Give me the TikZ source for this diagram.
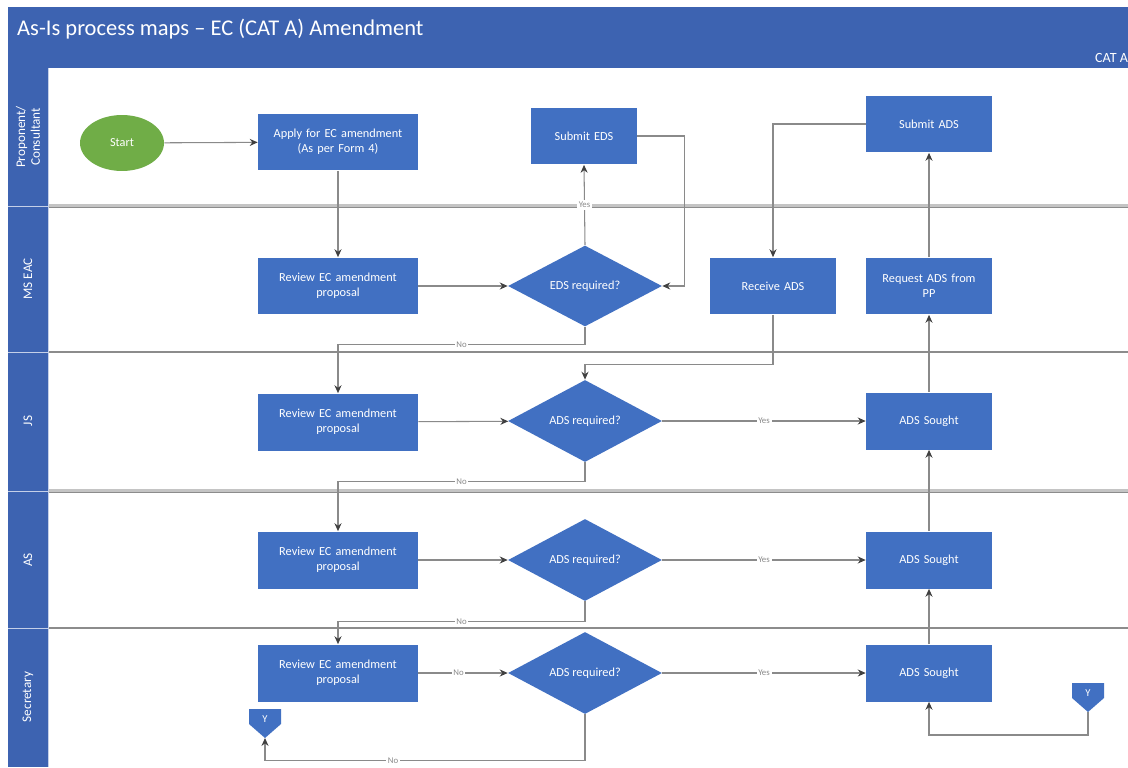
\documentclass[tikz,border=0pt]{standalone}
\usepackage{fontspec}
\setmainfont{Carlito}
\usetikzlibrary{shapes.geometric,arrows.meta}

\definecolor{barblue}{HTML}{3D63B1}
\definecolor{boxblue}{HTML}{4170C2}
\definecolor{startgreen}{HTML}{70AD47}
\definecolor{linegray}{HTML}{8A8A8A}
\definecolor{tipgray}{HTML}{404040}
\definecolor{sepgray}{HTML}{C4C4C4}
\definecolor{sepdark}{HTML}{8C8C8C}

\tikzset{
  x=0.02cm, y=-0.02cm,
  every node/.style={font=\fontsize{7}{8.5}\selectfont},
  procbox/.style={rectangle, fill=boxblue, text=white, align=center,
    minimum height=1.14cm, inner sep=2pt},
  widebox/.style={procbox, minimum width=3.2cm, text width=2.9cm},
  midbox/.style={procbox, minimum width=2.52cm, text width=2.3cm},
  smallbox/.style={procbox, minimum width=2.12cm, text width=1.9cm},
  decision/.style={diamond, fill=boxblue, text=white, align=center,
    minimum width=3.08cm, minimum height=1.52cm, inner sep=0pt},
  startnode/.style={ellipse, fill=startgreen, text=white,
    minimum width=1.68cm, minimum height=1.12cm},
  flow/.style={draw=linegray, line width=0.6pt,
    -{Stealth[length=4.5pt,width=4pt,color=tipgray]}},
  lbl/.style={fill=white, text=linegray, inner sep=1pt,
    font=\fontsize{5}{6}\selectfont},
  lanetext/.style={rotate=90, text=white, align=center,
    font=\fontsize{7.5}{8.5}\selectfont},
  offpage/.style={fill=boxblue},
}

\begin{document}
\begin{tikzpicture}
\useasboundingbox (0,0) rectangle (1128,767);
\clip (0,0) rectangle (1128,767);
\fill[white] (0,0) rectangle (1128,767);

% header band and lane label column
\fill[barblue] (8,7) rectangle (1128,68);
\fill[barblue] (8,68) rectangle (48,767);
\node[anchor=west, text=white, font=\fontsize{12.8}{14}\selectfont] (title) at (11,29)
  {As-Is process maps -- EC (CAT A) Amendment};
\node[anchor=west, text=white, font=\fontsize{8}{9}\selectfont] (phase) at (1089,58) {CAT A};

% lane separators
\foreach \yy in {206,491} {
  \draw[sepgray, line width=2.2pt] (48,\yy) -- (1128,\yy);
  \draw[sepdark, line width=0.5pt] (48,\yy+1) -- (1128,\yy+1);
}
\foreach \yy in {352,628} {
  \draw[sepdark, line width=0.9pt] (48,\yy) -- (1128,\yy);
}
\foreach \yy in {206,352,491,628}
  \draw[white!70!barblue, line width=0.4pt] (8,\yy) -- (48,\yy);
\draw[white!70!barblue, line width=0.5pt] (48,68) -- (48,767);

% lane names
\node[lanetext] (laneA) at (28,137) {Proponent/\\Consultant};
\node[lanetext] (laneB) at (28,279) {MS EAC};
\node[lanetext] (laneC) at (28,421) {JS};
\node[lanetext] (laneD) at (28,560) {AS};
\node[lanetext] (laneE) at (28,697) {Secretary};

% proponent / consultant lane
\node[startnode] (start) at (122,143) {Start};
\node[widebox] (apply) at (338,142) {Apply for EC amendment\\(As per Form 4)};
\node[smallbox] (subEDS) at (584,136) {Submit EDS};
\node[midbox] (subADS) at (929,124) {Submit ADS};

% MS EAC lane
\node[widebox] (revMS) at (338,286) {Review EC amendment\\proposal};
\node[decision] (edsQ) at (585,286) {EDS required?};
\node[midbox] (recADS) at (773,286) {Receive ADS};
\node[midbox] (reqADS) at (929,286) {Request ADS from\\PP};

% JS lane
\node[widebox] (revJS) at (338,422) {Review EC amendment\\proposal};
\node[decision] (adsJS) at (585,421) {ADS required?};
\node[midbox] (soughtJS) at (929,421) {ADS Sought};

% AS lane
\node[widebox] (revAS) at (338,560) {Review EC amendment\\proposal};
\node[decision] (adsAS) at (585,560) {ADS required?};
\node[midbox] (soughtAS) at (929,560) {ADS Sought};

% Secretary lane
\node[widebox] (revSec) at (338,673) {Review EC amendment\\proposal};
\node[decision] (adsSec) at (585,673) {ADS required?};
\node[midbox] (soughtSec) at (929,673) {ADS Sought};

% off-page references
\fill[offpage] (249,709) -- (281,709) -- (281,724) -- (265,738) -- (249,724) -- cycle;
\node[text=white, font=\fontsize{6}{7}\selectfont] (offL) at (265,719) {Y};
\coordinate (offLtip) at (265,738);
\fill[offpage] (1072,683) -- (1104,683) -- (1104,698) -- (1088,712) -- (1072,698) -- cycle;
\node[text=white, font=\fontsize{6}{7}\selectfont] (offR) at (1088,693) {Y};
\coordinate (offRtip) at (1088,712);

% connectors
\draw[flow] (start) -- (apply);
\draw[flow] (apply) -- (revMS);
\draw[flow] (revMS) -- (edsQ);
\draw[flow] (edsQ.north) -- node[lbl]{Yes} (subEDS.south);
\draw[flow] (subEDS.east) -- ++(47,0) |- (edsQ.east);
\draw[flow] (edsQ.south) -- ++(0,18) -| node[lbl,pos=0.25]{No} (revJS.north);
\draw[flow] (subADS.west) -| (recADS.north);
\draw[flow] (recADS.south) -- ++(0,50) -| (adsJS.north);
\draw[flow] (reqADS) -- (subADS);
\draw[flow] (soughtJS) -- (reqADS);
\draw[flow] (revJS) -- (adsJS);
\draw[flow] (adsJS) -- node[lbl]{Yes} (soughtJS);
\draw[flow] (adsJS.south) -- ++(0,19) -| node[lbl,pos=0.25]{No} (revAS.north);
\draw[flow] (soughtAS) -- (soughtJS);
\draw[flow] (revAS) -- (adsAS);
\draw[flow] (adsAS) -- node[lbl]{Yes} (soughtAS);
\draw[flow] (adsAS.south) -- ++(0,20) -| node[lbl,pos=0.25]{No} (revSec.north);
\draw[flow] (revSec) -- node[lbl,pos=0.45]{No} (adsSec);
\draw[flow] (adsSec) -- node[lbl]{Yes} (soughtSec);
\draw[flow] (soughtSec) -- (soughtAS);
\draw[flow] (adsSec.south) -- ++(0,46) -| node[lbl,pos=0.3]{No} (offLtip);
\draw[flow] (offRtip) -- ++(0,23) -| (soughtSec.south);
\end{tikzpicture}
\end{document}
